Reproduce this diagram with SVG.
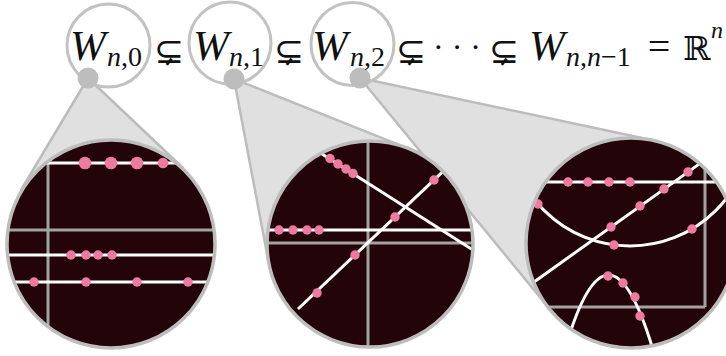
<svg xmlns="http://www.w3.org/2000/svg" width="726" height="356" viewBox="0 0 726 356">
<style>
.funnel{fill:#e0e0e0;stroke:#bcbcbc;stroke-width:2.5;stroke-linejoin:round}
.disk{fill:#230408}
.rim{fill:none;stroke:#bdbdbd;stroke-width:3.5}
.ring{fill:none;stroke:#c2c2c2;stroke-width:3}
.knob{fill:#bdbdbd}
.gl{stroke:#a3a3a3;stroke-width:3;fill:none}
.wl{stroke:#ffffff;stroke-width:3;fill:none}
.dot{fill:#ef7aa1}
.m{font-family:"Liberation Serif","DejaVu Serif",serif;fill:#111}
.it{font-style:italic}
.sym{font-family:"DejaVu Serif","DejaVu Sans",serif;fill:#111}
</style>
<defs>
<clipPath id="c1"><circle cx="111" cy="244" r="104"/></clipPath>
<clipPath id="c2"><circle cx="370" cy="244" r="103"/></clipPath>
<clipPath id="c3"><circle cx="631" cy="243" r="105"/></clipPath>
</defs>

<g id="connectors">
<polygon class="funnel" points="88,78 21,190 183,168"/>
<polygon class="funnel" points="234,79 268.8,263.2 408,148.3"/>
<polygon class="funnel" points="360,78 550,309.4 652.8,140.3"/>
</g>

<g id="zoom0">
<circle class="disk" cx="111" cy="244" r="104"/>
<g clip-path="url(#c1)">
<line class="gl" x1="48" y1="130" x2="48" y2="360"/>
<line class="gl" x1="0" y1="230" x2="230" y2="230"/>
<line class="wl" x1="0" y1="163" x2="230" y2="163"/>
<line class="wl" x1="0" y1="255" x2="230" y2="255"/>
<line class="wl" x1="0" y1="282" x2="230" y2="282"/>
</g>
<circle class="dot" cx="85" cy="163" r="6.3"/>
<circle class="dot" cx="111" cy="163" r="6.3"/>
<circle class="dot" cx="137" cy="163" r="6.3"/>
<circle class="dot" cx="163" cy="163" r="5.3"/>
<circle class="dot" cx="71" cy="255" r="4.7"/>
<circle class="dot" cx="86" cy="255" r="4.7"/>
<circle class="dot" cx="98" cy="255" r="4.7"/>
<circle class="dot" cx="112" cy="255" r="4.7"/>
<circle class="dot" cx="34" cy="282" r="4.7"/>
<circle class="dot" cx="86" cy="282" r="4.7"/>
<circle class="dot" cx="137" cy="282" r="4.7"/>
<circle class="dot" cx="188" cy="282" r="4.7"/>
<circle class="rim" cx="111" cy="244" r="104"/>
</g>

<g id="zoom1">
<circle class="disk" cx="370" cy="244" r="103"/>
<g clip-path="url(#c2)">
<line class="gl" x1="368" y1="130" x2="368" y2="360"/>
<line class="gl" x1="260" y1="243" x2="480" y2="243"/>
<line class="wl" x1="260" y1="230" x2="480" y2="230"/>
<line class="wl" x1="300" y1="140" x2="490" y2="260.8"/>
<line class="wl" x1="298" y1="309" x2="452" y2="162.9"/>
</g>
<circle class="dot" cx="279" cy="230" r="4.7"/>
<circle class="dot" cx="293" cy="230" r="4.7"/>
<circle class="dot" cx="307" cy="230" r="4.7"/>
<circle class="dot" cx="319" cy="230" r="4.7"/>
<circle class="dot" cx="330" cy="158.5" r="4.7"/>
<circle class="dot" cx="338" cy="164" r="4.7"/>
<circle class="dot" cx="346" cy="169" r="4.7"/>
<circle class="dot" cx="353" cy="173.5" r="4.7"/>
<circle class="dot" cx="434" cy="180" r="4.7"/>
<circle class="dot" cx="395" cy="217" r="4.7"/>
<circle class="dot" cx="355" cy="255" r="4.7"/>
<circle class="dot" cx="317" cy="293" r="4.7"/>
<circle class="rim" cx="370" cy="244" r="103"/>
</g>

<g id="zoom2">
<circle class="disk" cx="631" cy="243" r="105"/>
<g clip-path="url(#c3)">
<line class="gl" x1="705" y1="130" x2="705" y2="307"/>
<line class="gl" x1="520" y1="307" x2="705" y2="307"/>
<line class="wl" x1="520" y1="182" x2="740" y2="182"/>
<line class="wl" x1="533" y1="282.7" x2="712" y2="154.9"/>
<circle class="wl" cx="630" cy="124.5" r="121.5"/>
<path class="wl" d="M562 360 Q608 190 656 360"/>
</g>
<circle class="dot" cx="568" cy="182" r="4.7"/>
<circle class="dot" cx="588" cy="182" r="4.7"/>
<circle class="dot" cx="609" cy="182" r="4.7"/>
<circle class="dot" cx="630" cy="182" r="4.7"/>
<circle class="dot" cx="688" cy="172" r="4.7"/>
<circle class="dot" cx="664" cy="189" r="4.7"/>
<circle class="dot" cx="640" cy="206" r="4.7"/>
<circle class="dot" cx="611" cy="227" r="4.7"/>
<circle class="dot" cx="538" cy="204" r="4.7"/>
<circle class="dot" cx="614" cy="245" r="4.7"/>
<circle class="dot" cx="692" cy="229" r="4.7"/>
<circle class="dot" cx="608" cy="276" r="4.7"/>
<circle class="dot" cx="623" cy="283" r="4.7"/>
<circle class="dot" cx="635" cy="297" r="4.7"/>
<circle class="dot" cx="640" cy="316" r="4.7"/>
<circle class="rim" cx="631" cy="243" r="105"/>
</g>

<g id="lens0">
<circle class="ring" cx="108.5" cy="45.5" r="41.5"/>
<circle class="knob" cx="88" cy="78" r="10.5"/>
</g>
<g id="lens1">
<circle class="ring" cx="230" cy="43" r="41"/>
<circle class="knob" cx="234" cy="79" r="10.5"/>
</g>
<g id="lens2">
<circle class="ring" cx="352.5" cy="44" r="41.5"/>
<circle class="knob" cx="360" cy="78" r="10.5"/>
</g>

<g id="formula">
<text class="m it" x="70" y="60" font-size="43">W</text>
<text class="m" x="107" y="66" font-size="28"><tspan class="it">n</tspan>,0</text>
<text class="sym" x="169" y="63" font-size="36" text-anchor="middle">⊊</text>
<text class="m it" x="193" y="60" font-size="43">W</text>
<text class="m" x="229" y="66" font-size="28"><tspan class="it">n</tspan>,1</text>
<text class="sym" x="289" y="63" font-size="36" text-anchor="middle">⊊</text>
<text class="m it" x="312" y="60" font-size="43">W</text>
<text class="m" x="350" y="66" font-size="28"><tspan class="it">n</tspan>,2</text>
<text class="sym" x="411" y="63" font-size="36" text-anchor="middle">⊊</text>
<text class="m" x="457" y="58" font-size="32" text-anchor="middle">· · ·</text>
<text class="sym" x="504" y="63" font-size="36" text-anchor="middle">⊊</text>
<text class="m it" x="529" y="60" font-size="43">W</text>
<text class="m" x="566" y="66" font-size="28"><tspan class="it">n</tspan>,<tspan class="it">n</tspan>−1</text>
<text class="m" x="659" y="60" font-size="40" text-anchor="middle">=</text>
<text class="sym" x="683" y="60" font-size="33">ℝ</text>
<text class="m it" x="711" y="38" font-size="24">n</text>
</g>
</svg>
